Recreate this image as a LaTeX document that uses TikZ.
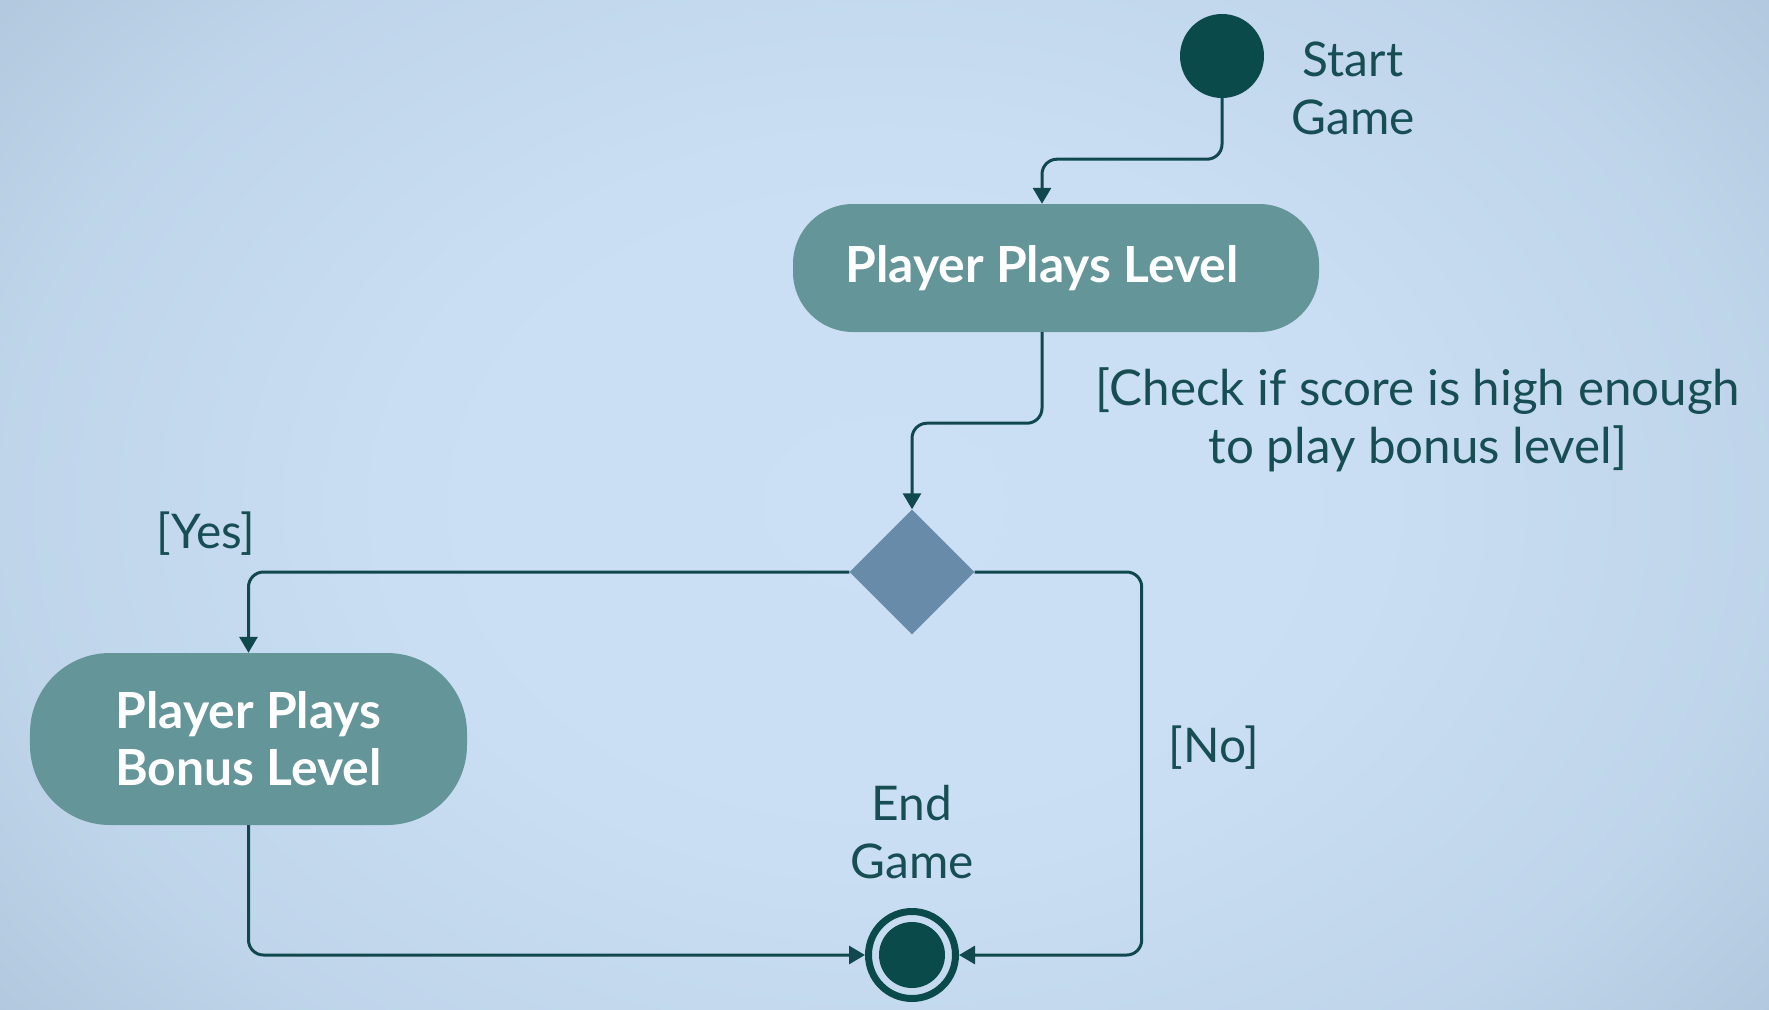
\documentclass[tikz,border=0pt]{standalone}
\usepackage{fontspec}
\setmainfont{Lato}
\usetikzlibrary{shapes.geometric,arrows.meta}
\definecolor{dark}{RGB}{10,74,74}
\definecolor{linec}{RGB}{16,72,78}
\definecolor{boxc}{RGB}{99,149,153}
\definecolor{diac}{RGB}{104,139,170}
\definecolor{txtc}{RGB}{22,78,84}
\pgfdeclareradialshading{bgshade}{\pgfpoint{0bp}{0bp}}{rgb(0bp)=(0.796,0.878,0.957); rgb(12bp)=(0.790,0.872,0.952); rgb(22bp)=(0.750,0.834,0.918); rgb(31bp)=(0.667,0.761,0.847); rgb(50bp)=(0.667,0.761,0.847)}
\tikzset{
  flow/.style={draw=linec, line width=3bp, rounded corners=15bp, -{Triangle[length=16bp,width=18bp]}},
  activity/.style={fill=boxc, rounded corners=60bp, text=white, font=\fontsize{50}{57}\selectfont\bfseries, align=center, inner sep=0pt},
  lbl/.style={text=txtc, font=\fontsize{48}{58}\selectfont, align=center, inner sep=0pt},
}
\begin{document}
\begin{tikzpicture}[x=1bp,y=-1bp]
\useasboundingbox (0,0) rectangle (1769,1009);
\shade[shading=bgshade] (-120,-230) rectangle (1889,1239);
% nodes
\node[circle, fill=dark, minimum size=84bp, inner sep=0pt] (start) at (1222,56) {};
\node[lbl] (starttxt) at (1353,88) {Start\\Game};
\node[activity, minimum width=526bp, minimum height=128bp] (b1) at (1056,268) {Player Plays Level\hspace*{28bp}};
\node[diamond, fill=diac, minimum width=125bp, minimum height=125bp, inner sep=0pt] (dia) at (912,572) {};
\node[activity, minimum width=437bp, minimum height=172bp, rounded corners=80bp] (b2) at (248.5,739) {Player Plays\\Bonus Level};
\node[circle, draw=dark, line width=7bp, minimum size=87bp, inner sep=0pt,
      path picture={\fill[dark] (path picture bounding box.center) circle (33bp);}] (endc) at (912,955) {};
\node[lbl] (endtxt) at (912,832) {End\\Game};
\node[lbl, font=\fontsize{49.5}{58}\selectfont] (check) at (1418,420) {[Check if score is high enough\\to play bonus level]};
\node[lbl] (yes) at (206,534) {[Yes]};
\node[lbl] (no) at (1214,748) {[No]};
% connectors
\draw[flow] (start.south) -- ++(0,61) -| ([xshift=-14bp]b1.north);
\draw[flow] ([xshift=-14bp]b1.south) -- ++(0,91) -| (dia.north);
\draw[flow] (dia.west) -| (b2.north);
\draw[flow] (dia.east) -- ++(167,0) |- (endc.east);
\draw[flow] (b2.south) |- (endc.west);
\end{tikzpicture}
\end{document}
